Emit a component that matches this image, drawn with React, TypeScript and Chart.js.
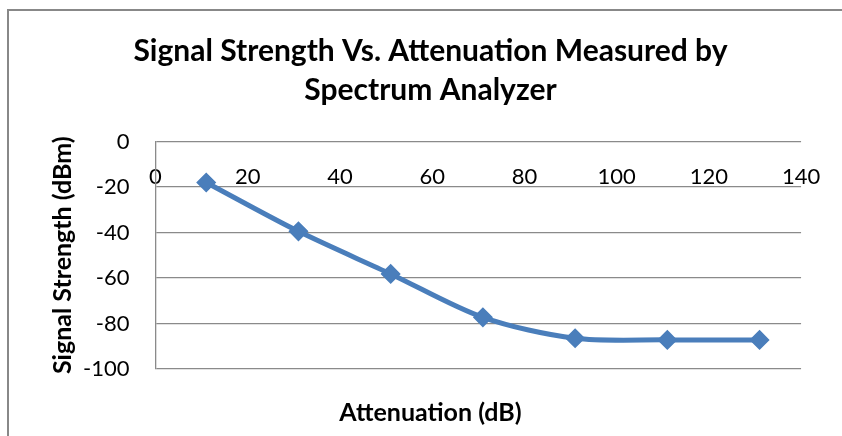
import React, { useEffect, useRef } from "react";
import { Chart, registerables } from "chart.js";

Chart.register(...registerables);

// Measured points: attenuation setting (dB) and the level read on the analyzer (dBm)
const attenuation = [11, 31, 51, 71, 91, 111, 131];
const signalStrength = [-18, -39.5, -58.2, -77.3, -86.5, -87.2, -87.2];

const titleLines = ["Signal Strength Vs. Attenuation Measured by", "Spectrum Analyzer"];
const xAxisTitle = "Attenuation (dB)";
const yAxisTitle = "Signal Strength (dBm)";

const xMin = 0;
const xMax = 140;
const xStep = 20;
const yMin = -100;
const yMax = 0;
const yStep = 20;

const FONT = "Lato, 'Open Sans', sans-serif";
const SERIES_COLOR = "#4a7ebb";
const GRID_COLOR = "#8a8a8a";
const FRAME_COLOR = "#888";

// Outer chart frame: only its left and top edges fall inside the figure
const framePlugin = {
  id: "outerFrame",
  beforeDraw(chart: any) {
    const { ctx, width, height } = chart;
    ctx.save();
    ctx.strokeStyle = FRAME_COLOR;
    ctx.lineWidth = 2;
    ctx.beginPath();
    ctx.moveTo(8, height);
    ctx.lineTo(8, 10);
    ctx.lineTo(width, 10);
    ctx.stroke();
    ctx.restore();
  },
};

export default function App() {
  const canvasRef = useRef<HTMLCanvasElement | null>(null);

  useEffect(() => {
    const canvas = canvasRef.current;
    if (!canvas) return;

    const points = attenuation.map((x, i) => ({ x, y: signalStrength[i] }));

    const chart = new Chart(canvas, {
      type: "line",
      data: {
        datasets: [
          {
            data: points,
            borderColor: SERIES_COLOR,
            backgroundColor: SERIES_COLOR,
            borderWidth: 5,
            tension: 0.3,
            pointStyle: "rectRot",
            pointRadius: 9,
            pointBorderWidth: 1.5,
            pointBorderColor: SERIES_COLOR,
            pointBackgroundColor: SERIES_COLOR,
            fill: false,
          },
        ],
      },
      options: {
        animation: false,
        responsive: false,
        devicePixelRatio: 1,
        layout: { padding: { left: 19, right: 0, top: 0, bottom: 0 } },
        plugins: {
          legend: { display: false },
          tooltip: { enabled: false },
          title: {
            display: true,
            text: titleLines,
            color: "#000",
            font: { family: FONT, size: 30, weight: "bold", lineHeight: "39px" },
            padding: { top: 31.5, bottom: 32 },
          },
          subtitle: {
            display: true,
            position: "bottom",
            text: xAxisTitle,
            color: "#000",
            font: { family: FONT, size: 25, weight: "bold", lineHeight: 1.2 },
            padding: { top: 29, bottom: 8 },
          },
        },
        scales: {
          x: {
            type: "linear",
            position: { y: 0 } as any,
            min: xMin,
            max: xMax,
            grid: { display: false, drawTicks: false },
            border: { display: false },
            ticks: {
              stepSize: xStep,
              color: "#000",
              padding: 21.8,
              font: { family: FONT, size: 22 },
              maxRotation: 0,
            },
          },
          y: {
            type: "linear",
            position: "left",
            min: yMin,
            max: yMax,
            afterFit: (scale: any) => {
              scale.width = 136.5;
            },
            grid: { color: GRID_COLOR, lineWidth: 1.3, drawTicks: false },
            border: { display: true, color: GRID_COLOR, width: 1.3 },
            ticks: {
              stepSize: yStep,
              color: "#000",
              padding: 26,
              font: { family: FONT, size: 22 },
            },
            title: {
              display: true,
              text: yAxisTitle,
              color: "#000",
              font: { family: FONT, size: 25, weight: "bold", lineHeight: 1.2 },
              padding: { top: 29, bottom: 0 },
            },
          },
          // blank margin on the right of the plot so the titles stay centred on the whole figure
          yRightGap: {
            type: "linear",
            position: "right",
            display: true,
            min: yMin,
            max: yMax,
            afterFit: (scale: any) => {
              scale.width = 37;
            },
            grid: { display: false, drawTicks: false },
            border: { display: false },
            ticks: { display: false },
          },
        },
      },
      plugins: [framePlugin],
    });

    return () => chart.destroy();
  }, []);

  return (
    <div style={{ position: "fixed", left: 0, top: 0, width: 842, height: 436, background: "#fff", overflow: "hidden" }}>
      <canvas ref={canvasRef} width={842} height={436} style={{ display: "block" }} />
    </div>
  );
}
